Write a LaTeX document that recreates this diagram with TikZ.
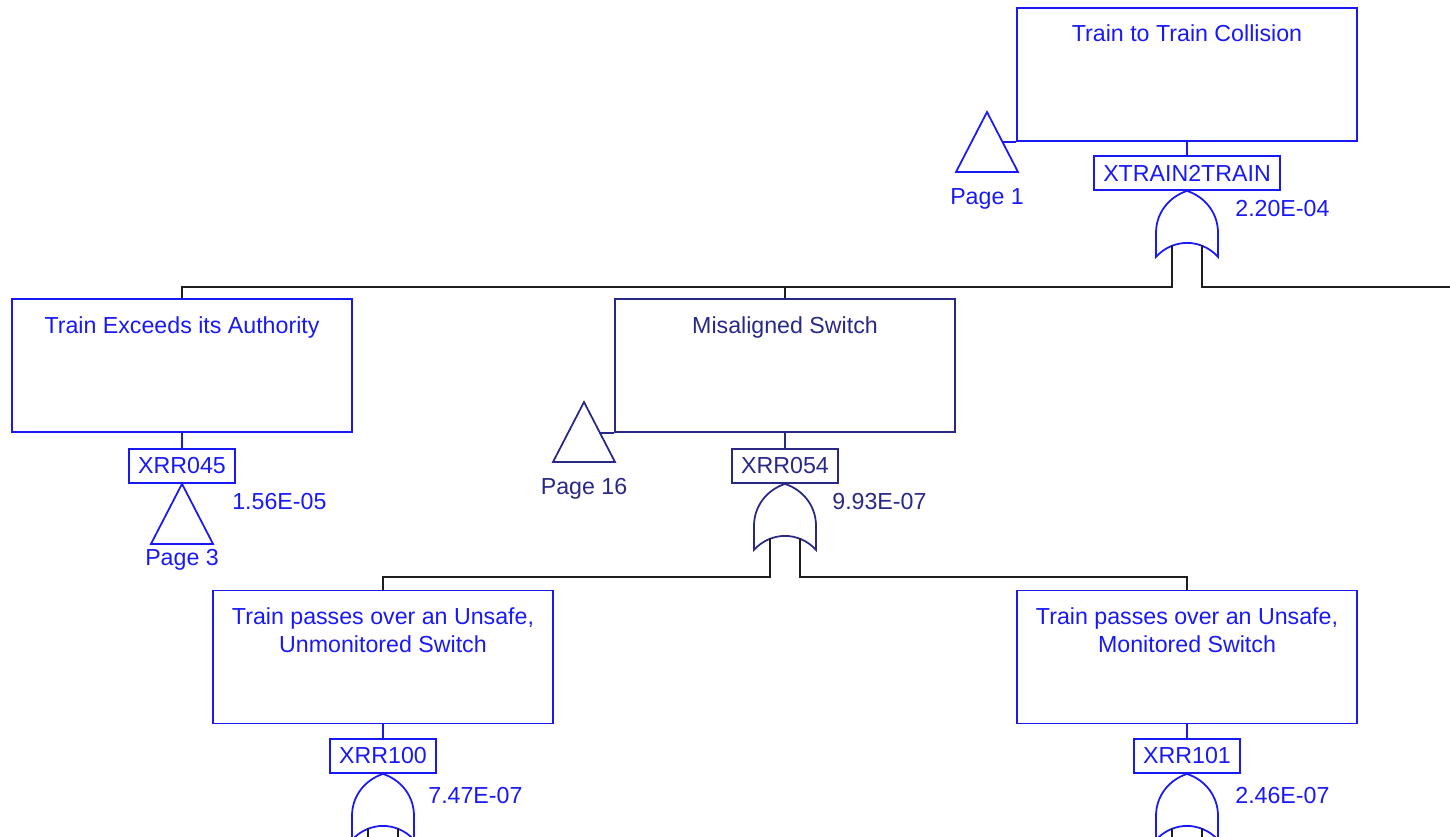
\documentclass[tikz,border=0pt]{standalone}
\usepackage{fontspec}
\setmainfont{Liberation Sans}
\usetikzlibrary{calc}

\definecolor{ftblue}{RGB}{25,25,245}
\definecolor{ftnavy}{RGB}{40,40,135}
\definecolor{ftwire}{RGB}{30,30,30}

\tikzset{
  evbox/.style={draw, line width=1pt, minimum width=6.8cm, minimum height=2.66cm, inner sep=0pt},
  evtext/.style={anchor=north, inner sep=0pt, align=center, font=\fontsize{13.2}{15.9}\selectfont},
  idbox/.style={draw, line width=1pt, minimum height=0.68cm, inner xsep=0.18cm, inner ysep=0pt, font=\fontsize{13.2}{15.9}\selectfont},
  numtext/.style={anchor=west, inner sep=0pt, font=\fontsize{13.2}{15.9}\selectfont},
  pgtext/.style={inner sep=0pt, font=\fontsize{13.2}{15.9}\selectfont},
  wire/.style={ftwire, line width=1pt},
  orgate/.pic={
    \draw[line width=1pt] (0,0) .. controls (-18,6) and (-31,22) .. (-31,42) -- (-31,66)
      .. controls (-22,56) and (-10,52) .. (0,52) .. controls (10,52) and (22,56) .. (31,66)
      -- (31,42) .. controls (31,22) and (18,6) .. (0,0);
    \coordinate (-l) at (-15,54);
    \coordinate (-r) at (15,54);
  },
  transfer/.pic={
    \draw[line width=1pt] (0,0) -- (31,60) -- (-31,60) -- cycle;
    \coordinate (-e) at (15,29.5);
    \coordinate (-b) at (0,60);
  }
}

\begin{document}
\begin{tikzpicture}[x=0.02cm,y=-0.02cm]
\useasboundingbox (0,0) rectangle (1450,836);
\clip (0,0) rectangle (1450,836);

% top event
\node[evbox, ftblue] (top) at (1187,74.5) {};
\node[evtext, ftblue] at ([yshift=-0.35cm]top.north) {Train to Train Collision};
\node[idbox, ftblue] (g0) at (1187,173) {XTRAIN2TRAIN};
\draw[ftblue, line width=1pt] (top.south) -- (g0.north);
\pic[ftblue] (ga) at (g0.south) {orgate};
\node[numtext, ftblue] at ($(g0.south)+(48,18)$) {2.20E-04};
\pic[ftblue] (t1) at (987,112) {transfer};
\node[pgtext, ftblue] at ($(t1-b)+(0,27)$) {Page 1};
\draw[ftblue, line width=1pt] (top.south west) -- (top.south west -| t1-e);

% first level
\coordinate (bus1) at (0,287);
\coordinate (busend) at (1460,287);
\node[evbox, ftblue] (ex) at (182,365.5) {};
\node[evtext, ftblue] at ([yshift=-0.36cm]ex.north) {Train Exceeds its Authority};
\node[idbox, ftblue] (g45) at (182,466) {XRR045};
\draw[ftblue, line width=1pt] (ex.south) -- (g45.north);
\pic[ftblue] (t3) at (g45.south) {transfer};
\node[pgtext, ftblue] at ($(t3-b)+(0,16)$) {Page 3};
\node[numtext, ftblue] at ($(g45.south)+(50,18)$) {1.56E-05};

\node[evbox, ftnavy] (ms) at (785,365.5) {};
\node[evtext, ftnavy] at ([yshift=-0.36cm]ms.north) {Misaligned Switch};
\node[idbox, ftnavy] (g54) at (785,466) {XRR054};
\draw[ftnavy, line width=1pt] (ms.south) -- (g54.north);
\pic[ftnavy] (gb) at (g54.south) {orgate};
\node[numtext, ftnavy] at ($(g54.south)+(47,18)$) {9.93E-07};
\pic[ftnavy] (t16) at (584,402) {transfer};
\node[pgtext, ftnavy] at ($(t16-b)+(0,27)$) {Page 16};
\draw[ftnavy, line width=1pt] (ms.south west) -- (ms.south west -| t16-e);

\draw[wire] (ga-l) |- (ex.north |- bus1) -- (ex.north);
\draw[wire] (ms.north) -- (ms.north |- bus1);
\draw[wire] (ga-r) |- (busend);

% second level
\coordinate (bus2) at (0,577);
\coordinate (cut) at (0,850);
\node[evbox, ftblue] (uu) at (383,657) {};
\node[evtext, ftblue] at ([yshift=-0.36cm]uu.north) {Train passes over an Unsafe,\\Unmonitored Switch};
\node[idbox, ftblue] (g100) at (383,756) {XRR100};
\draw[ftblue, line width=1pt] (uu.south) -- (g100.north);
\pic[ftblue] (gc) at (g100.south) {orgate};
\node[numtext, ftblue] at ($(g100.south)+(45,22)$) {7.47E-07};

\node[evbox, ftblue] (mm) at (1187,657) {};
\node[evtext, ftblue] at ([yshift=-0.36cm]mm.north) {Train passes over an Unsafe,\\Monitored Switch};
\node[idbox, ftblue] (g101) at (1187,756) {XRR101};
\draw[ftblue, line width=1pt] (mm.south) -- (g101.north);
\pic[ftblue] (gd) at (g101.south) {orgate};
\node[numtext, ftblue] at ($(g101.south)+(48,22)$) {2.46E-07};

\draw[wire] (gb-l) |- (uu.north |- bus2) -- (uu.north);
\draw[wire] (gb-r) |- (mm.north |- bus2) -- (mm.north);
\draw[wire] (gc-l) -- (gc-l |- cut);
\draw[wire] (gc-r) -- (gc-r |- cut);
\draw[wire] (gd-l) -- (gd-l |- cut);
\draw[wire] (gd-r) -- (gd-r |- cut);
\end{tikzpicture}
\end{document}
